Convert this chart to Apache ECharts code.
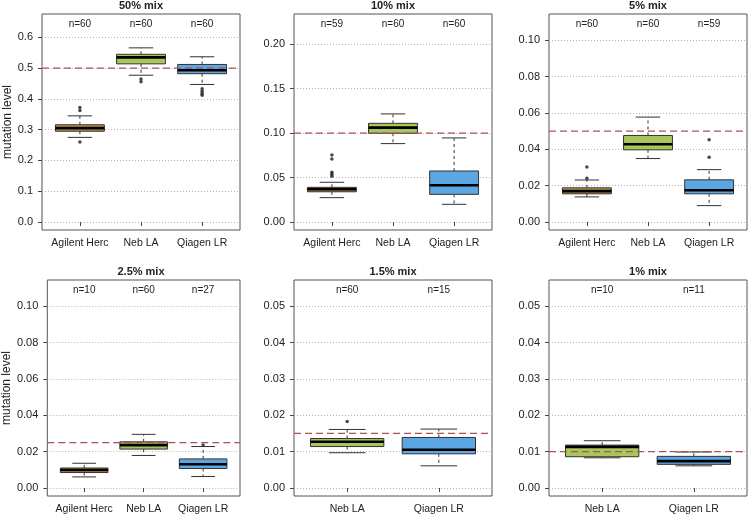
<!DOCTYPE html>
<html>
<head>
<meta charset="utf-8">
<script src="https://cdn.jsdelivr.net/npm/echarts@6/dist/echarts.min.js"></script>
<style>
  html, body { margin: 0; padding: 0; background: #fff; }
  #chart { width: 748px; height: 518px; }
</style>
</head>
<body>
<div id="chart"></div>
<script>
// panel titles and the expected mutation level (dashed line)
const panelTitles = ['50% mix', '10% mix', '5% mix', '2.5% mix', '1.5% mix', '1% mix'];
const refLevels = [0.5, 0.1, 0.05, 0.025, 0.015, 0.01];

// groups per panel and sample counts
const groupNames = [
  ['Agilent Herc', 'Neb LA', 'Qiagen LR'],
  ['Agilent Herc', 'Neb LA', 'Qiagen LR'],
  ['Agilent Herc', 'Neb LA', 'Qiagen LR'],
  ['Agilent Herc', 'Neb LA', 'Qiagen LR'],
  ['Neb LA', 'Qiagen LR'],
  ['Neb LA', 'Qiagen LR']
];
const counts = [[60, 60, 60], [59, 60, 60], [60, 60, 59], [10, 60, 27], [60, 15], [10, 11]];

// box stats: [lower whisker, Q1, median, Q3, upper whisker]
const stats50 = [[0.275, 0.295, 0.305, 0.316, 0.345], [0.477, 0.514, 0.535, 0.545, 0.566], [0.447, 0.482, 0.493, 0.512, 0.537]];
const stats10 = [[0.0274, 0.034, 0.0368, 0.039, 0.0447], [0.0882, 0.0998, 0.1062, 0.111, 0.1216], [0.0199, 0.0311, 0.0413, 0.0574, 0.0946]];
const stats5 = [[0.0138, 0.0155, 0.017, 0.0188, 0.0231], [0.0349, 0.0397, 0.0428, 0.0476, 0.0577], [0.009, 0.0155, 0.0175, 0.0232, 0.0288]];
const stats25 = [[0.0061, 0.0085, 0.0099, 0.011, 0.0136], [0.0179, 0.0214, 0.0236, 0.0254, 0.0295], [0.0063, 0.0107, 0.0131, 0.016, 0.0228]];
const stats15 = [[0.0097, 0.0114, 0.0127, 0.0136, 0.0161], [0.0061, 0.0094, 0.0105, 0.0139, 0.0162]];
const stats1 = [[0.0083, 0.0086, 0.0113, 0.0118, 0.013], [0.0061, 0.0065, 0.0074, 0.0087, 0.0099]];

// outliers per group
const out50 = [[0.372, 0.362, 0.26], [0.465, 0.456], [0.433, 0.425, 0.418, 0.412]];
const out10 = [[0.0754, 0.0709, 0.0559, 0.0537, 0.0514], [], []];
const out5 = [[0.0303, 0.024], [], [0.0452, 0.0356]];
const out25 = [[], [], [0.0236]];
const out15 = [[0.0183], []];
const out1 = [[], []];

// y axis: upper limit and tick labels
const yLimits = [0.65, 0.225, 0.11, 0.11, 0.055, 0.055];
const yTicks = [
  [0, 0.1, 0.2, 0.3, 0.4, 0.5, 0.6],
  [0, 0.05, 0.1, 0.15, 0.2],
  [0, 0.02, 0.04, 0.06, 0.08, 0.1],
  [0, 0.02, 0.04, 0.06, 0.08, 0.1],
  [0, 0.01, 0.02, 0.03, 0.04, 0.05],
  [0, 0.01, 0.02, 0.03, 0.04, 0.05]
];
const yDecimals = [1, 2, 2, 2, 2, 2];

const allStats = [stats50, stats10, stats5, stats25, stats15, stats1];
const allOut = [out50, out10, out5, out25, out15, out1];

const boxColors = { 'Agilent Herc': '#bc9440', 'Neb LA': '#a8c65a', 'Qiagen LR': '#5ba6e3' };

// layout of the 2x3 panels
const colLeft = [42, 294, 549];
const rowTop = [14, 280];
const plotW = 198, plotH = 216;
const font = 'Liberation Sans, Arial, Helvetica, sans-serif';

const chart = echarts.init(document.getElementById('chart'));

const grids = [], xAxes = [], yAxes = [], titles = [], series = [];

panelTitles.forEach((t, i) => {
  const col = i % 3, row = Math.floor(i / 3);
  const names = groupNames[i];
  const n = names.length;
  const pos = names.map((_, k) => k + 1);
  const ext = 0.04 * n;
  const xMin = 0.5 - ext, xMax = n + 0.5 + ext;

  grids.push({
    left: colLeft[col], top: rowTop[row], width: plotW, height: plotH,
    show: true, borderColor: '#555', borderWidth: 1, backgroundColor: 'transparent'
  });

  titles.push({
    text: t, left: colLeft[col] + plotW / 2, top: rowTop[row] - 14, textAlign: 'center', padding: 0,
    textStyle: { fontSize: 11, fontWeight: 'bold', color: '#222', fontFamily: font }
  });

  // bottom axis: group names
  xAxes.push({
    type: 'value', gridIndex: i, min: xMin, max: xMax,
    axisLine: { show: false }, splitLine: { show: false },
    axisTick: { show: true, length: 4, customValues: pos, lineStyle: { color: '#444' } },
    axisLabel: {
      customValues: pos, margin: 8, fontSize: 10.5, color: '#222', fontFamily: font,
      formatter: v => names[Math.round(v) - 1]
    }
  });
  // top axis: sample counts
  xAxes.push({
    type: 'value', gridIndex: i, position: 'top', min: xMin, max: xMax,
    axisLine: { show: false }, splitLine: { show: false }, axisTick: { show: false },
    axisLabel: {
      inside: true, customValues: pos, margin: 5, fontSize: 10, color: '#222', fontFamily: font,
      formatter: v => 'n=' + counts[i][Math.round(v) - 1]
    }
  });

  yAxes.push({
    type: 'value', gridIndex: i, min: -0.04 * yLimits[i], max: 1.04 * yLimits[i],
    name: col === 0 ? 'mutation level' : '', nameLocation: 'middle', nameGap: 27,
    nameTextStyle: { fontSize: 12, color: '#222', fontFamily: font },
    axisLine: { show: false },
    axisTick: { show: true, length: 4, customValues: yTicks[i], lineStyle: { color: '#444' } },
    axisLabel: {
      customValues: yTicks[i], margin: 9, fontSize: 11, color: '#222', fontFamily: font,
      formatter: v => v.toFixed(yDecimals[i])
    },
    splitLine: { show: true, lineStyle: { color: '#b5b5b5', type: [1, 2], width: 1 } }
  });

  const boxData = allStats[i].map((s, k) => [k + 1].concat(s));

  series.push({
    type: 'custom', xAxisIndex: 2 * i, yAxisIndex: i, silent: true, animation: false,
    encode: { x: 0, y: [1, 2, 3, 4, 5] },
    data: boxData,
    renderItem: (params, api) => {
      const x = api.value(0);
      const lo = api.coord([x, api.value(1)]);
      const q1 = api.coord([x, api.value(2)]);
      const md = api.coord([x, api.value(3)]);
      const q3 = api.coord([x, api.value(4)]);
      const hi = api.coord([x, api.value(5)]);
      const half = api.size([0.8, 0])[0] / 2;
      const cx = lo[0];
      const fill = boxColors[names[params.dataIndex]];
      const dash = { stroke: '#333', lineWidth: 1, lineDash: [3, 3] };
      const solid = { stroke: '#333', lineWidth: 1 };
      return {
        type: 'group',
        children: [
          { type: 'line', shape: { x1: cx, y1: q1[1], x2: cx, y2: lo[1] }, style: dash },
          { type: 'line', shape: { x1: cx, y1: q3[1], x2: cx, y2: hi[1] }, style: dash },
          { type: 'line', shape: { x1: cx - half / 2, y1: lo[1], x2: cx + half / 2, y2: lo[1] }, style: solid },
          { type: 'line', shape: { x1: cx - half / 2, y1: hi[1], x2: cx + half / 2, y2: hi[1] }, style: solid },
          { type: 'rect', shape: { x: cx - half, y: q3[1], width: 2 * half, height: q1[1] - q3[1] },
            style: { fill: fill, stroke: '#333', lineWidth: 1 } },
          { type: 'line', shape: { x1: cx - half, y1: md[1], x2: cx + half, y2: md[1] },
            style: { stroke: '#000', lineWidth: 2.6 } }
        ]
      };
    }
  });

  const outData = [];
  allOut[i].forEach((vals, k) => vals.forEach(v => outData.push([k + 1, v])));

  series.push({
    type: 'scatter', xAxisIndex: 2 * i, yAxisIndex: i, silent: true, animation: false, z: 3,
    symbol: 'circle', symbolSize: 3.5, itemStyle: { color: '#1a1a1a' },
    data: outData
  });

  // expected level, across the whole panel
  series.push({
    type: 'line', xAxisIndex: 2 * i, yAxisIndex: i, silent: true, animation: false, z: 4,
    symbol: 'none', lineStyle: { color: '#a95454', type: [7, 4], width: 1.3 },
    data: [[xMin, refLevels[i]], [xMax, refLevels[i]]]
  });
});

chart.setOption({
  backgroundColor: '#fff',
  animation: false,
  title: titles,
  grid: grids,
  xAxis: xAxes,
  yAxis: yAxes,
  series: series
});
</script>
</body>
</html>
